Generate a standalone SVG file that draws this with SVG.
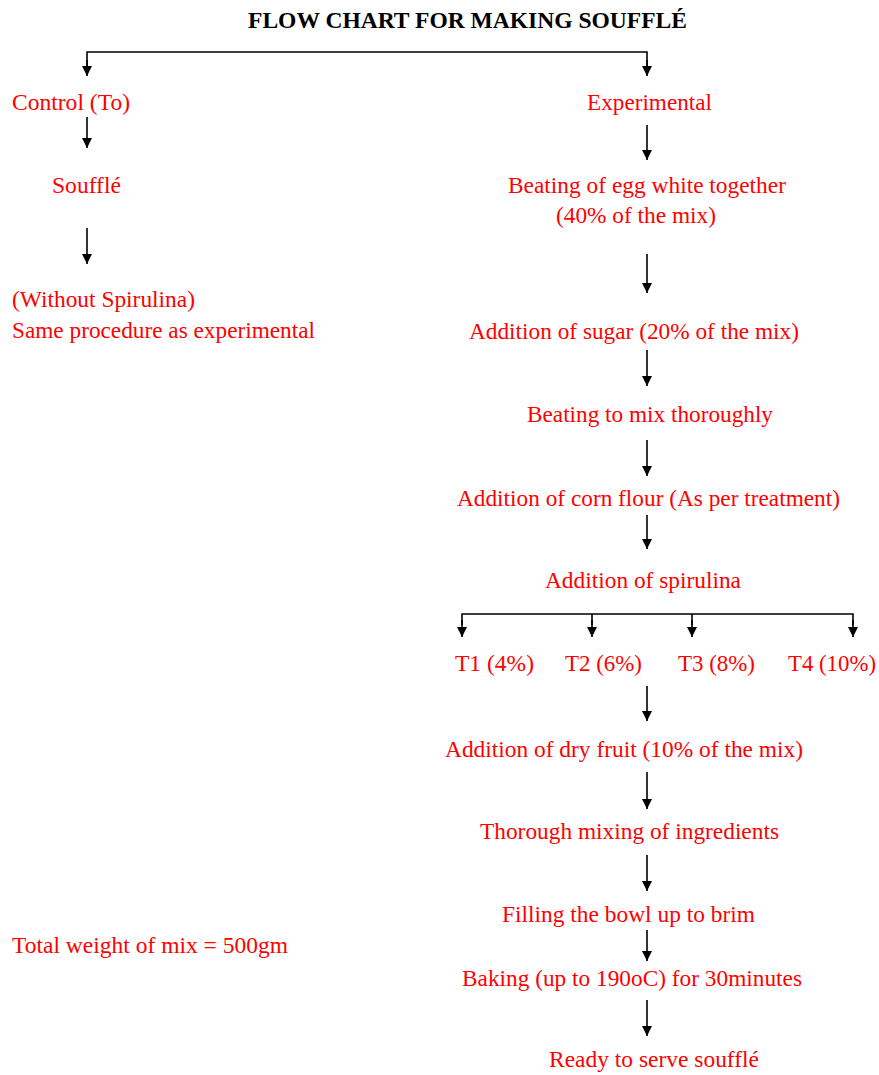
<svg xmlns="http://www.w3.org/2000/svg" width="879" height="1075" viewBox="0 0 879 1075">
<defs>
<marker id="ah" viewBox="0 0 10 10" refX="10" refY="5" markerWidth="10" markerHeight="10" markerUnits="userSpaceOnUse" orient="auto">
<path d="M0,0 L10,5 L0,10 z" fill="#000"/>
</marker>
</defs>
<style>
.t{font-family:"Liberation Serif","Times New Roman",serif;font-size:23px;fill:#ff0000}
.h{font-family:"Liberation Serif","Times New Roman",serif;font-size:23px;font-weight:bold;fill:#000}
.c{stroke:#000;stroke-width:1.6;fill:none}
.a{stroke:#000;stroke-width:1.6;fill:none;marker-end:url(#ah)}
</style>
<rect width="879" height="1075" fill="#fff"/>
<g id="title"><text class="h" x="248" y="28" textLength="439" lengthAdjust="spacingAndGlyphs">FLOW CHART FOR MAKING SOUFFLÉ</text></g>
<g id="connectors">
<path class="c" d="M87,75 L87,52 L647,52 L647,75"/>
<line class="a" x1="87" y1="60" x2="87" y2="76"/>
<line class="a" x1="647" y1="60" x2="647" y2="76"/>
<line class="a" x1="87" y1="117" x2="87" y2="148"/>
<line class="a" x1="647" y1="125" x2="647" y2="160"/>
<line class="a" x1="87" y1="228" x2="87" y2="264"/>
<line class="a" x1="647" y1="254" x2="647" y2="293"/>
<line class="a" x1="647" y1="350" x2="647" y2="386"/>
<line class="a" x1="647" y1="440" x2="647" y2="476"/>
<line class="a" x1="647" y1="515" x2="647" y2="549"/>
<path class="c" d="M462,625 L462,614 L853,614 L853,625 M592,614 L592,625 M692,614 L692,625"/>
<line class="a" x1="462" y1="620" x2="462" y2="637"/>
<line class="a" x1="592" y1="620" x2="592" y2="637"/>
<line class="a" x1="692" y1="620" x2="692" y2="637"/>
<line class="a" x1="853" y1="620" x2="853" y2="637"/>
<line class="a" x1="647" y1="686" x2="647" y2="721"/>
<line class="a" x1="647" y1="772" x2="647" y2="809"/>
<line class="a" x1="647" y1="855" x2="647" y2="891"/>
<line class="a" x1="647" y1="930" x2="647" y2="961"/>
<line class="a" x1="647" y1="1000" x2="647" y2="1036"/>
</g>
<g id="control"><text class="t" x="12" y="110" textLength="118" lengthAdjust="spacingAndGlyphs">Control (To)</text></g>
<g id="experimental"><text class="t" x="587" y="110" textLength="125" lengthAdjust="spacingAndGlyphs">Experimental</text></g>
<g id="souffle"><text class="t" x="52" y="193" textLength="69" lengthAdjust="spacingAndGlyphs">Soufflé</text></g>
<g id="beating-egg"><text class="t" x="508" y="193" textLength="278" lengthAdjust="spacingAndGlyphs">Beating of egg white together</text><text class="t" x="556" y="223" textLength="160" lengthAdjust="spacingAndGlyphs">(40% of the mix)</text></g>
<g id="without"><text class="t" x="12" y="307" textLength="183" lengthAdjust="spacingAndGlyphs">(Without Spirulina)</text><text class="t" x="12" y="338" textLength="303" lengthAdjust="spacingAndGlyphs">Same procedure as experimental</text></g>
<g id="sugar"><text class="t" x="469" y="339" textLength="330" lengthAdjust="spacingAndGlyphs">Addition of sugar (20% of the mix)</text></g>
<g id="beating-mix"><text class="t" x="527" y="422" textLength="246" lengthAdjust="spacingAndGlyphs">Beating to mix thoroughly</text></g>
<g id="corn"><text class="t" x="457" y="506" textLength="383" lengthAdjust="spacingAndGlyphs">Addition of corn flour (As per treatment)</text></g>
<g id="spirulina"><text class="t" x="545" y="588" textLength="196" lengthAdjust="spacingAndGlyphs">Addition of spirulina</text></g>
<g id="t1"><text class="t" x="455" y="671" textLength="79" lengthAdjust="spacingAndGlyphs">T1 (4%)</text></g>
<g id="t2"><text class="t" x="565" y="671" textLength="77" lengthAdjust="spacingAndGlyphs">T2 (6%)</text></g>
<g id="t3"><text class="t" x="678" y="671" textLength="77" lengthAdjust="spacingAndGlyphs">T3 (8%)</text></g>
<g id="t4"><text class="t" x="788" y="671" textLength="88" lengthAdjust="spacingAndGlyphs">T4 (10%)</text></g>
<g id="dryfruit"><text class="t" x="445" y="757" textLength="358" lengthAdjust="spacingAndGlyphs">Addition of dry fruit (10% of the mix)</text></g>
<g id="mixing"><text class="t" x="480" y="839" textLength="299" lengthAdjust="spacingAndGlyphs">Thorough mixing of ingredients</text></g>
<g id="filling"><text class="t" x="502" y="922" textLength="253" lengthAdjust="spacingAndGlyphs">Filling the bowl up to brim</text></g>
<g id="total"><text class="t" x="12" y="953" textLength="276" lengthAdjust="spacingAndGlyphs">Total weight of mix = 500gm</text></g>
<g id="baking"><text class="t" x="462" y="986" textLength="340" lengthAdjust="spacingAndGlyphs">Baking (up to 190oC) for 30minutes</text></g>
<g id="ready"><text class="t" x="549" y="1067" textLength="210" lengthAdjust="spacingAndGlyphs">Ready to serve soufflé</text></g>
</svg>
